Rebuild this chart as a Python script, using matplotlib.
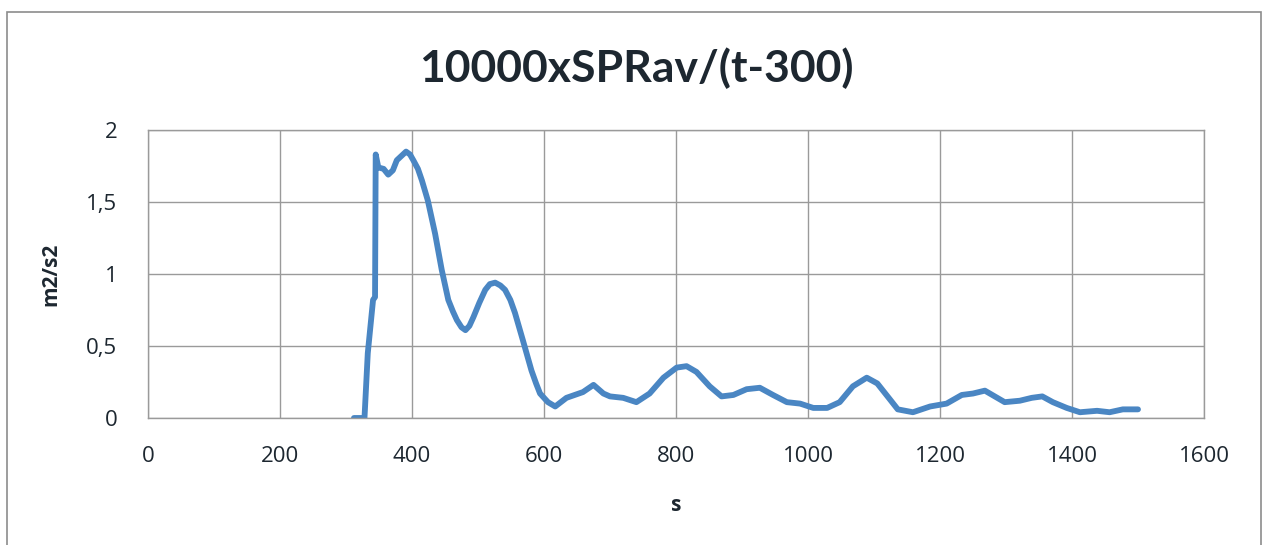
import matplotlib
matplotlib.use("Agg")
import matplotlib.pyplot as plt
from matplotlib.patches import Rectangle

# time (s) and 10000 x SPRav / (t - 300) (m2/s2)
t = [312, 328, 333, 341, 344, 345, 349, 357, 364, 371, 377, 384, 391, 397,
     402, 409, 415, 424, 435, 445, 455, 462, 468, 475, 481, 487, 493, 502,
     511, 518, 526, 534, 541, 549, 556, 568, 581, 588, 594, 606, 617, 634,
     659, 675, 690, 700, 720, 740, 760, 781, 801, 816, 831, 851, 869, 887,
     907, 927, 947, 968, 988, 1008, 1029, 1048, 1068, 1089, 1105, 1124, 1136,
     1159, 1185, 1210, 1233, 1250, 1268, 1283, 1298, 1321, 1339, 1355, 1371,
     1392, 1412, 1438, 1457, 1477, 1500]
val = [0.0, 0.0, 0.45, 0.82, 0.84, 1.83, 1.74, 1.73, 1.69, 1.72, 1.79, 1.82,
       1.85, 1.83, 1.79, 1.73, 1.65, 1.51, 1.28, 1.03, 0.82, 0.74, 0.68, 0.63,
       0.61, 0.64, 0.70, 0.80, 0.89, 0.93, 0.94, 0.92, 0.89, 0.82, 0.73, 0.54,
       0.33, 0.24, 0.17, 0.11, 0.08, 0.14, 0.18, 0.23, 0.17, 0.15, 0.14, 0.11,
       0.17, 0.28, 0.35, 0.36, 0.32, 0.22, 0.15, 0.16, 0.20, 0.21, 0.16, 0.11,
       0.10, 0.07, 0.07, 0.11, 0.22, 0.28, 0.24, 0.13, 0.06, 0.04, 0.08, 0.10,
       0.16, 0.17, 0.19, 0.15, 0.11, 0.12, 0.14, 0.15, 0.11, 0.07, 0.04, 0.05,
       0.04, 0.06, 0.06]

xticks = [0, 200, 400, 600, 800, 1000, 1200, 1400, 1600]
yticks = [0, 0.5, 1, 1.5, 2]
ytick_labels = ["0", "0,5", "1", "1,5", "2"]

text_color = "#1d2730"
grid_color = "#9a9a9a"

fig = plt.figure(figsize=(12.69, 5.45), dpi=100)
W, H = 1269, 545

# outer chart border
fig.patches.append(Rectangle((7 / W, -0.02), (1261 - 7) / W, 1.02 - 12 / H,
                             transform=fig.transFigure, fill=False,
                             edgecolor="#8c8c8c", linewidth=1.2))

ax = fig.add_axes([148 / W, (H - 418) / H, (1204 - 148) / W, (418 - 130) / H])
ax.plot(t, val, color="#4a86c3", linewidth=4.2, solid_joinstyle="round",
        solid_capstyle="round")

ax.set_xlim(0, 1600)
ax.set_ylim(0, 2)
ax.set_xticks(xticks)
ax.set_yticks(yticks)
ax.set_yticklabels(ytick_labels)
ax.grid(True, color=grid_color, linewidth=1.0)
ax.set_axisbelow(True)
ax.tick_params(length=0, labelsize=16, colors=text_color)
ax.tick_params(axis="y", pad=22)
ax.tick_params(axis="x", pad=20)
for lbl in ax.get_xticklabels() + ax.get_yticklabels():
    lbl.set_fontfamily("Open Sans")
for sp in ax.spines.values():
    sp.set_color(grid_color)
    sp.set_linewidth(1.0)

ax.set_xlabel("s", fontsize=15, fontweight="bold", color=text_color,
              fontfamily="Open Sans", labelpad=20)
ax.set_ylabel("m2/s2", fontsize=15, fontweight="bold", color=text_color,
              fontfamily="Open Sans", labelpad=18)

fig.text(636 / W, 1 - 68 / H, "10000xSPRav/(t-300)", ha="center", va="center",
         fontsize=32, fontweight="bold", color=text_color, fontfamily="Lato")

fig.savefig("out.png", dpi=100)
